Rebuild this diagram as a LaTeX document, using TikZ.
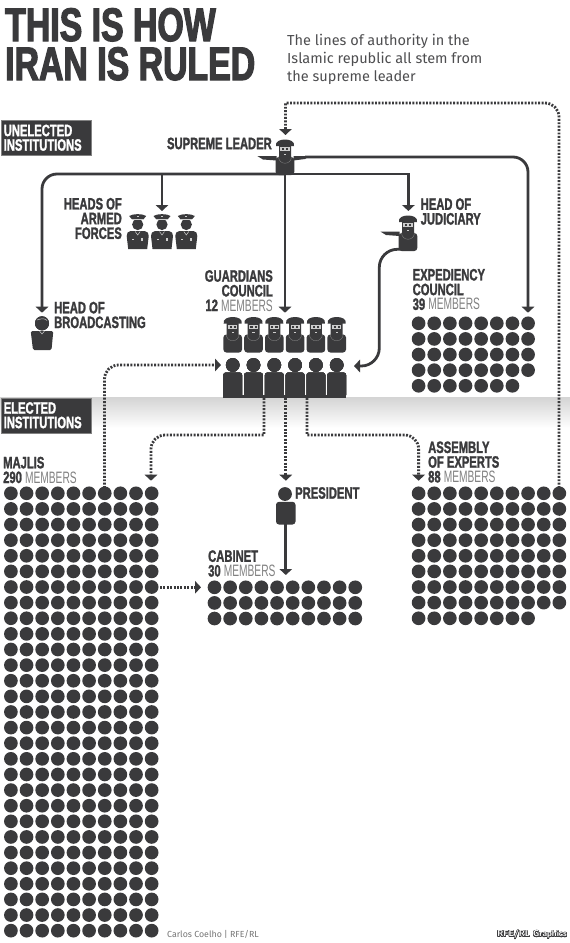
\documentclass[tikz,border=0pt]{standalone}
\usepackage{fontspec}
\usepackage[copies]{contour}
\usetikzlibrary{arrows.meta}
\newfontfamily\titlefont[FakeStretch=0.72,BoldFeatures={FakeBold=2.5}]{Liberation Sans}
\newfontfamily\headfont[FakeStretch=0.68,BoldFeatures={FakeBold=1.5}]{Liberation Sans}
\newfontfamily\membfont[FakeStretch=0.62]{Liberation Sans}
\newfontfamily\introfont{Fira Sans}
\definecolor{figdark}{RGB}{58,58,60}
\definecolor{memgray}{RGB}{130,130,130}
\definecolor{facelight}{RGB}{205,205,205}
\newcommand{\memb}{\textcolor{memgray}{\membfont\mdseries MEMBERS}}
\newcommand{\dotgrid}[4]{%
  \foreach \c in {1,...,#3} \foreach \r in {1,...,#4}
    \fill[figdark] ({#1+(\c-1)*15.64},{#2+(\r-1)*15.62}) circle (6.85);
}
\newcommand{\clericfig}[2]{%
  \begin{scope}[shift={(#1,#2)}]
    \fill[figdark,rounded corners=3pt] (-9.3,35.5) -- (-9.3,17.5) -- (9.3,17.5) -- (9.3,35.5) -- cycle;
    \fill[figdark] (-9,6.5) .. controls (-10,2) and (-5,0) .. (0,0) .. controls (5,0) and (10,2) .. (9,6.5) -- cycle;
    \fill[figdark] (-6,6) -- (-6,17) .. controls (-6,25) and (6,25) .. (6,17) -- (6,6) -- cycle;
    \draw[memgray,line width=.35] (-6.5,17) .. controls (-6.5,26) and (6.5,26) .. (6.5,17);
    \fill[facelight] (-4.6,7.6) rectangle (4.6,11.6);
    \fill[figdark] (-3.2,8.7) rectangle (-1,10.5);
    \fill[figdark] (1,8.7) rectangle (3.2,10.5);
    \fill[facelight] (-1.2,14.6) rectangle (1.2,15.3);
  \end{scope}
}
\newcommand{\officerfig}[2]{%
  \begin{scope}[shift={(#1,#2)}]
    \fill[figdark] (-6,5) -- (-8.5,2) .. controls (-5,-.5) and (5,-.5) .. (8.5,2) -- (6,5) -- cycle;
    \fill[figdark] (0,10.5) circle (5.6);
    \fill[facelight] (-6,5.2) rectangle (6,5.7);
    \fill[facelight] (-.9,1.8) rectangle (.9,3.4);
    \fill[figdark] (-7,17) .. controls (-10,17.5) and (-11,19) .. (-11,22) -- (-9.5,35) -- (9.5,35) -- (11,22) .. controls (11,19) and (10,17.5) .. (7,17) -- cycle;
    \fill[facelight] (-5.5,25) rectangle (-3.5,26);
    \fill[facelight] (3.5,23.5) rectangle (5.5,27);
    \draw[facelight,line width=.5] (-2.5,17.5) -- (0,21) -- (2.5,17.5);
  \end{scope}
}
\newcommand{\sittingfig}[1]{%
  \fill[figdark] (#1,365) circle (6.8);
  \fill[figdark,rounded corners=2.6pt] ({#1-9.4},397.5) -- ({#1-9.4},372.5) -- ({#1+9.4},372.5) -- ({#1+9.4},397.5) -- cycle;
}
\tikzset{
  authline/.style={figdark,line width=2.8pt,-{Triangle[width=12.5pt,length=6pt]}},
  dotline/.style={figdark,line width=2.8pt,dash pattern=on 1.9pt off 1.5pt,-{Triangle[width=12.5pt,length=6pt]}},
  rlabel/.style={anchor=east,inner sep=0,align=right,text=figdark,font=\headfont\bfseries\fontsize{16.5}{14.7}\selectfont},
  llabel/.style={anchor=west,inner sep=0,align=left,text=figdark,font=\headfont\bfseries\fontsize{16.5}{14.7}\selectfont},
  tagbox/.style={anchor=north west,fill=figdark,text=white,draw=memgray,line width=.5pt,inner sep=0,align=left,
    minimum width=90pt,minimum height=35pt,text width=86pt,font=\headfont\bfseries\fontsize{16.5}{14.5}\selectfont},
  titletext/.style={anchor=base west,inner sep=0,text=figdark,text height=33pt,text depth=0pt,font=\titlefont\bfseries\fontsize{47}{47}\selectfont},
}
\begin{document}
\begin{tikzpicture}[x=1pt,y=-1pt]
  \useasboundingbox (0,0) rectangle (570,943);
  \fill[white] (0,0) rectangle (570,943);
  \shade[top color=black!17,bottom color=white] (0,397) rectangle (570,428);

  % title
  \node[titletext] (titleone) at (5,41) {THIS IS HOW};
  \node[titletext] (titletwo) at (5,80) {IRAN IS RULED};
  \node[anchor=north west,inner sep=0,align=left,text=figdark!90,font=\introfont\fontsize{14.5}{18}\selectfont] (intro) at (287,33.5)
    {The lines of authority in the\\Islamic republic all stem from\\the supreme leader};
  \node[tagbox] (unelected) at (0.5,120) {\hspace*{1pt}UNELECTED\\\hspace*{1pt}INSTITUTIONS};
  \node[tagbox] (elected) at (0.5,397.5) {\hspace*{1pt}ELECTED\\\hspace*{1pt}INSTITUTIONS};

  % anchor points
  \coordinate (leadertop) at (285.5,135);
  \coordinate (leaderarm) at (305,157);
  \coordinate (leaderbase) at (285,174);
  \coordinate (armedtop) at (162,211);
  \coordinate (judgetop) at (408.4,211);
  \coordinate (judgebase) at (405,249.3);
  \coordinate (judgebend) at (379.3,249.3);
  \coordinate (guardbend) at (379.3,366);
  \coordinate (guardright) at (354,366);
  \coordinate (guardleft) at (221,365);
  \coordinate (guardtop) at (285,312.7);
  \coordinate (bcasttop) at (42,312.7);
  \coordinate (expedtop) at (528,312.7);
  \coordinate (footleft) at (264,398);
  \coordinate (footmid) at (285.8,398);
  \coordinate (footright) at (307,398);
  \coordinate (bendleft) at (264,435);
  \coordinate (bendright) at (307,435);
  \coordinate (majlistop) at (151,480.7);
  \coordinate (majlisdot) at (104.5,488);
  \coordinate (majlisside) at (160,587.3);
  \coordinate (presidenttop) at (285.8,480.7);
  \coordinate (presidentbase) at (285.8,522);
  \coordinate (assemblytop) at (418.6,480.7);
  \coordinate (assemblydot) at (559,488);
  \coordinate (dotturn) at (320,103);
  \coordinate (dotcorner) at (285.5,103);
  \coordinate (cabinettop) at (285.8,575);
  \coordinate (cabinetleft) at (201,587.3);

  % solid lines
  \draw[authline,rounded corners=15pt] (leaderarm) -| (expedtop);
  \draw[authline,rounded corners=15pt] (leaderbase) -| (bcasttop);
  \draw[authline] (leaderbase) -| (armedtop);
  \draw[authline] (leaderbase) -| (judgetop);
  \draw[authline] (leaderbase) -- (guardtop);
  \draw[authline,rounded corners=18pt] (judgebase) -- (judgebend) -- (guardbend) -- (guardright);
  \draw[authline] (presidentbase) -- (cabinettop);

  % dotted lines
  \draw[dotline,rounded corners=14pt] (assemblydot) |- (dotturn) [sharp corners] -- (dotcorner) -- (leadertop);
  \draw[dotline,rounded corners=14pt] (majlisdot) |- (guardleft);
  \draw[dotline] (footleft) -- (bendleft) [rounded corners=14pt] -| (majlistop);
  \draw[dotline] (footright) -- (bendright) [rounded corners=14pt] -| (assemblytop);
  \draw[dotline] (footmid) -- (presidenttop);
  \draw[dotline] (majlisside) -- (cabinetleft);

  % members
  \dotgrid{10.9}{493.3}{10}{29}
  \dotgrid{418.6}{493.3}{10}{8}
  \dotgrid{418.6}{618.3}{8}{1}
  \dotgrid{214.5}{587.3}{10}{3}
  \dotgrid{418.6}{323.3}{8}{4}
  \dotgrid{418.6}{385.8}{7}{1}

  % figures
  \clericfig{285}{139.5}
  \fill[figdark] (257.3,156) -- (276.5,156) -- (276.5,160.5) -- (263,159.5) -- cycle;
  \fill[figdark] (293.5,156) -- (309.5,156) -- (305,159) -- (293.5,160.5) -- cycle;
  \clericfig{408}{215.5}
  \fill[figdark] (380.4,231.5) -- (399.5,231.5) -- (399.5,236) -- (386,235) -- cycle;
  \foreach \x in {232.7,253.5,274.3,295.1,315.9,336.7} \clericfig{\x}{317}
  \foreach \x in {232.7,253.5,274.3,295.1,315.9,336.7} \sittingfig{\x}
  \fill[figdark] (223.3,394.5) rectangle (346.1,398);
  \foreach \x in {137.7,162,186.3} \officerfig{\x}{214}
  % head of broadcasting
  \fill[figdark] (42,323.3) circle (7);
  \draw[facelight,line width=.5] (37,320) .. controls (41,318.5) and (45,318) .. (47,320.5);
  \fill[figdark,rounded corners=1.5pt] (30.7,331) -- (53.3,331) -- (51.5,350) -- (33,350) -- cycle;
  \draw[facelight,line width=.5] (39.5,331) -- (42,334) -- (44.5,331);
  % president
  \fill[figdark] (285,494) circle (6.9);
  \fill[figdark,rounded corners=3pt] (276,524.5) -- (276,501.8) -- (295.5,501.8) -- (295.5,524.5) -- cycle;

  % labels
  \node[rlabel] (leaderlabel) at (272,143.5) {SUPREME LEADER};
  \node[rlabel] (armedlabel) at (122,218.5) {HEADS OF\\ARMED\\FORCES};
  \node[llabel] (judgelabel) at (420.5,211.5) {HEAD OF\\JUDICIARY};
  \node[llabel] (bcastlabel) at (54,315) {HEAD OF\\BROADCASTING};
  \node[rlabel] (guardlabel) at (273,290.7) {GUARDIANS\\COUNCIL\\12 \memb};
  \node[llabel] (expedlabel) at (412.5,289.5) {EXPEDIENCY\\COUNCIL\\39 \memb};
  \node[llabel] (majlislabel) at (3,470) {MAJLIS\\290 \memb};
  \node[llabel] (assemblylabel) at (428,462) {ASSEMBLY\\OF EXPERTS\\88 \memb};
  \node[llabel] (presidentlabel) at (295,493) {PRESIDENT};
  \node[llabel] (cabinetlabel) at (208,563.5) {CABINET\\30 \memb};

  % credits
  \node[anchor=west,inner sep=0,text=memgray!90!black,font=\introfont\fontsize{8.8}{10}\selectfont] (credit) at (167,934) {Carlos Coelho | RFE/RL};
  \node[anchor=east,inner sep=0,font=\sffamily\bfseries\fontsize{8.6}{10}\selectfont] (graphics) at (567,935)
    {\contourlength{.5pt}\contour{figdark}{\textcolor{white}{RFE/RL Graphics}}};
\end{tikzpicture}
\end{document}
